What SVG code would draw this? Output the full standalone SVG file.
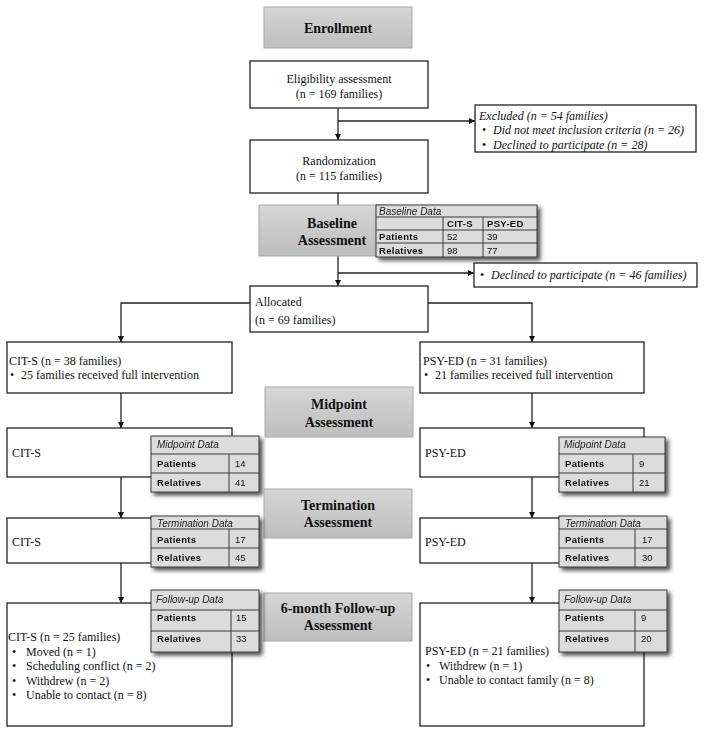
<svg xmlns="http://www.w3.org/2000/svg" width="704" height="734" viewBox="0 0 704 734">
<defs>
<style>
.box{fill:#fff;stroke:#222;stroke-width:1.3}
.gray{fill:url(#gg);stroke:#a8a8a8;stroke-width:1}
.t{font-family:"Liberation Serif","Times New Roman",serif;font-size:12px;fill:#111}
.ti{font-family:"Liberation Serif","Times New Roman",serif;font-size:12px;font-style:italic;fill:#111}
.h{font-family:"Liberation Serif","Times New Roman",serif;font-size:14px;font-weight:bold;fill:#111;text-anchor:middle}
.tb{fill:#dcdcdc;stroke:#3a3a3a;stroke-width:1}
.tl{stroke:#3a3a3a;stroke-width:1}
.tt{font-family:"Liberation Sans",Arial,sans-serif;font-size:10px;font-style:italic;fill:#222}
.tbold{font-family:"Liberation Sans",Arial,sans-serif;font-size:9.5px;font-weight:bold;fill:#111;letter-spacing:0.3px}
.tn{font-family:"Liberation Sans",Arial,sans-serif;font-size:9.5px;fill:#111}
.c{fill:none;stroke:#222;stroke-width:1.3}
</style>
<linearGradient id="gg" x1="0" y1="0" x2="0" y2="1">
<stop offset="0" stop-color="#d6d6d6"/>
<stop offset="1" stop-color="#bdbdbd"/>
</linearGradient>
<filter id="sh" x="-10%" y="-10%" width="130%" height="140%">
<feGaussianBlur in="SourceAlpha" stdDeviation="2"/>
<feOffset dx="3" dy="3" result="b"/>
<feComponentTransfer><feFuncA type="linear" slope="0.7"/></feComponentTransfer>
<feMerge><feMergeNode/><feMergeNode in="SourceGraphic"/></feMerge>
</filter>
<marker id="ar" markerWidth="7" markerHeight="6" refX="6" refY="3" orient="auto" markerUnits="userSpaceOnUse">
<path d="M0,0 L6,3 L0,6 z" fill="#111"/>
</marker>
</defs>
<rect width="704" height="734" fill="#fff"/>

<g id="connectors">
<path class="c" d="M338,108 V140" marker-end="url(#ar)"/>
<path class="c" d="M338,121 H475" marker-end="url(#ar)"/>
<path class="c" d="M338,193 V286" marker-end="url(#ar)"/>
<path class="c" d="M338,273 H474" marker-end="url(#ar)"/>
<path class="c" d="M250,303 H121 V342" marker-end="url(#ar)"/>
<path class="c" d="M428,303 H532 V342" marker-end="url(#ar)"/>
<path class="c" d="M121,393 V428" marker-end="url(#ar)"/>
<path class="c" d="M121,477 V518" marker-end="url(#ar)"/>
<path class="c" d="M121,563 V603" marker-end="url(#ar)"/>
<path class="c" d="M532,393 V428" marker-end="url(#ar)"/>
<path class="c" d="M532,477 V518" marker-end="url(#ar)"/>
<path class="c" d="M532,563 V603" marker-end="url(#ar)"/>
</g>

<g id="enrollment">
<rect class="gray" x="264" y="7" width="148" height="41"/>
<text class="h" x="338" y="33">Enrollment</text>
</g>

<g id="eligibility">
<rect class="box" x="250" y="61" width="178" height="47"/>
<text class="t" x="339" y="83" text-anchor="middle">Eligibility assessment</text>
<text class="t" x="339" y="98" text-anchor="middle">(n = 169 families)</text>
</g>

<g id="excluded">
<rect class="box" x="475" y="105" width="221" height="47"/>
<text class="ti" x="479" y="120">Excluded (n = 54 families)</text>
<text class="t" x="482" y="134">•</text>
<text class="ti" x="493" y="134">Did not meet inclusion criteria (n = 26)</text>
<text class="t" x="482" y="149">•</text>
<text class="ti" x="493" y="149">Declined to participate (n = 28)</text>
</g>

<g id="randomization">
<rect class="box" x="250" y="140" width="178" height="53"/>
<text class="t" x="339" y="165" text-anchor="middle">Randomization</text>
<text class="t" x="339" y="180" text-anchor="middle">(n = 115 families)</text>
</g>

<g id="baseline">
<rect class="gray" x="259" y="205" width="126" height="51"/>
<text class="h" x="332" y="228">Baseline</text>
<text class="h" x="332" y="245">Assessment</text>
</g>

<g id="baseline-data" filter="url(#sh)">
<rect class="tb" x="376" y="205" width="161" height="52"/>
<line class="tl" x1="376" y1="217" x2="537" y2="217"/>
<line class="tl" x1="376" y1="230" x2="537" y2="230"/>
<line class="tl" x1="376" y1="243" x2="537" y2="243"/>
<line class="tl" x1="443" y1="217" x2="443" y2="257"/>
<line class="tl" x1="483" y1="217" x2="483" y2="257"/>
<text class="tt" x="379" y="214.5">Baseline Data</text>
<text class="tbold" x="447" y="227">CIT-S</text>
<text class="tbold" x="487" y="227">PSY-ED</text>
<text class="tbold" x="379" y="240">Patients</text>
<text class="tn" x="447" y="240">52</text>
<text class="tn" x="487" y="240">39</text>
<text class="tbold" x="379" y="254">Relatives</text>
<text class="tn" x="447" y="254">98</text>
<text class="tn" x="487" y="254">77</text>
</g>

<g id="declined">
<rect class="box" x="474" y="263" width="223" height="24"/>
<text class="t" x="480" y="279">•</text>
<text class="ti" x="491" y="279">Declined to participate (n = 46 families)</text>
</g>

<g id="allocated">
<rect class="box" x="250" y="286" width="178" height="46"/>
<text class="t" x="255" y="306">Allocated</text>
<text class="t" x="255" y="324">(n = 69 families)</text>
</g>

<g id="cits-alloc">
<rect class="box" x="7" y="342" width="225" height="51"/>
<text class="t" x="9" y="365">CIT-S (n = 38 families)</text>
<text class="t" x="10" y="379">•</text>
<text class="t" x="21" y="379">25 families received full intervention</text>
</g>

<g id="psyed-alloc">
<rect class="box" x="420" y="342" width="224" height="51"/>
<text class="t" x="423" y="365">PSY-ED (n = 31 families)</text>
<text class="t" x="424" y="379">•</text>
<text class="t" x="435" y="379">21 families received full intervention</text>
</g>

<g id="midpoint">
<rect class="gray" x="265" y="387" width="148" height="50"/>
<text class="h" x="339" y="409">Midpoint</text>
<text class="h" x="339" y="427">Assessment</text>
</g>

<g id="cits-mid">
<rect class="box" x="7" y="428" width="225" height="49"/>
<text class="t" x="12" y="457">CIT-S</text>
</g>
<g id="cits-mid-data" filter="url(#sh)">
<rect class="tb" x="151" y="436" width="108" height="56"/>
<line class="tl" x1="151" y1="454" x2="259" y2="454"/>
<line class="tl" x1="151" y1="473" x2="259" y2="473"/>
<line class="tl" x1="229" y1="454" x2="229" y2="492"/>
<text class="tt" x="157" y="448">Midpoint Data</text>
<text class="tbold" x="157" y="467">Patients</text>
<text class="tn" x="235" y="467">14</text>
<text class="tbold" x="157" y="486">Relatives</text>
<text class="tn" x="235" y="486">41</text>
</g>

<g id="psyed-mid">
<rect class="box" x="420" y="428" width="224" height="49"/>
<text class="t" x="425" y="457">PSY-ED</text>
</g>
<g id="psyed-mid-data" filter="url(#sh)">
<rect class="tb" x="559" y="437" width="106" height="55"/>
<line class="tl" x1="559" y1="454" x2="665" y2="454"/>
<line class="tl" x1="559" y1="473" x2="665" y2="473"/>
<line class="tl" x1="633" y1="454" x2="633" y2="492"/>
<text class="tt" x="564" y="448">Midpoint Data</text>
<text class="tbold" x="565" y="467">Patients</text>
<text class="tn" x="639" y="467">9</text>
<text class="tbold" x="565" y="486">Relatives</text>
<text class="tn" x="639" y="486">21</text>
</g>

<g id="termination">
<rect class="gray" x="264" y="489" width="148" height="49"/>
<text class="h" x="338" y="510">Termination</text>
<text class="h" x="338" y="527">Assessment</text>
</g>

<g id="cits-term">
<rect class="box" x="7" y="518" width="225" height="45"/>
<text class="t" x="12" y="546">CIT-S</text>
</g>
<g id="cits-term-data" filter="url(#sh)">
<rect class="tb" x="151" y="516" width="108" height="51"/>
<line class="tl" x1="151" y1="529" x2="259" y2="529"/>
<line class="tl" x1="151" y1="548" x2="259" y2="548"/>
<line class="tl" x1="229" y1="529" x2="229" y2="567"/>
<text class="tt" x="157" y="527">Termination Data</text>
<text class="tbold" x="157" y="543">Patients</text>
<text class="tn" x="235" y="543">17</text>
<text class="tbold" x="157" y="561">Relatives</text>
<text class="tn" x="235" y="561">45</text>
</g>

<g id="psyed-term">
<rect class="box" x="420" y="518" width="224" height="45"/>
<text class="t" x="425" y="546">PSY-ED</text>
</g>
<g id="psyed-term-data" filter="url(#sh)">
<rect class="tb" x="559" y="516" width="108" height="51"/>
<line class="tl" x1="559" y1="529" x2="667" y2="529"/>
<line class="tl" x1="559" y1="548" x2="667" y2="548"/>
<line class="tl" x1="635" y1="529" x2="635" y2="567"/>
<text class="tt" x="565" y="527">Termination Data</text>
<text class="tbold" x="565" y="543">Patients</text>
<text class="tn" x="642" y="543">17</text>
<text class="tbold" x="565" y="561">Relatives</text>
<text class="tn" x="642" y="561">30</text>
</g>

<g id="followup">
<rect class="gray" x="264" y="593" width="148" height="48"/>
<text class="h" x="338" y="613">6-month Follow-up</text>
<text class="h" x="338" y="630">Assessment</text>
</g>

<g id="cits-fu">
<rect class="box" x="7" y="603" width="225" height="123"/>
<text class="t" x="8" y="641">CIT-S (n = 25 families)</text>
<text class="t" x="12" y="656">•</text>
<text class="t" x="26" y="656">Moved (n = 1)</text>
<text class="t" x="12" y="670">•</text>
<text class="t" x="26" y="670">Scheduling conflict (n = 2)</text>
<text class="t" x="12" y="685">•</text>
<text class="t" x="26" y="685">Withdrew (n = 2)</text>
<text class="t" x="12" y="699">•</text>
<text class="t" x="26" y="699">Unable to contact (n = 8)</text>
</g>
<g id="cits-fu-data" filter="url(#sh)">
<rect class="tb" x="151" y="590" width="108" height="62"/>
<line class="tl" x1="151" y1="610" x2="259" y2="610"/>
<line class="tl" x1="151" y1="631" x2="259" y2="631"/>
<line class="tl" x1="231" y1="610" x2="231" y2="652"/>
<text class="tt" x="156" y="603">Follow-up Data</text>
<text class="tbold" x="157" y="621">Patients</text>
<text class="tn" x="236" y="621">15</text>
<text class="tbold" x="157" y="642">Relatives</text>
<text class="tn" x="236" y="642">33</text>
</g>

<g id="psyed-fu">
<rect class="box" x="420" y="603" width="224" height="123"/>
<text class="t" x="425" y="655">PSY-ED (n = 21 families)</text>
<text class="t" x="426" y="670">•</text>
<text class="t" x="439" y="670">Withdrew (n = 1)</text>
<text class="t" x="426" y="684">•</text>
<text class="t" x="439" y="684">Unable to contact family (n = 8)</text>
</g>
<g id="psyed-fu-data" filter="url(#sh)">
<rect class="tb" x="559" y="590" width="108" height="62"/>
<line class="tl" x1="559" y1="610" x2="667" y2="610"/>
<line class="tl" x1="559" y1="631" x2="667" y2="631"/>
<line class="tl" x1="635" y1="610" x2="635" y2="652"/>
<text class="tt" x="564" y="603">Follow-up Data</text>
<text class="tbold" x="565" y="621">Patients</text>
<text class="tn" x="641" y="621">9</text>
<text class="tbold" x="565" y="642">Relatives</text>
<text class="tn" x="641" y="642">20</text>
</g>
</svg>
